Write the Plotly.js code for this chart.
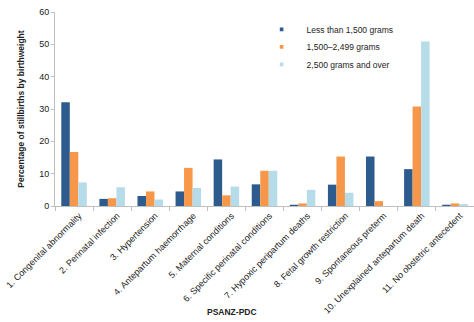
<!DOCTYPE html>
<html>
<head>
<meta charset="utf-8">
<script src="https://cdn.plot.ly/plotly-3.0.1.min.js"></script>
<style>html,body{margin:0;padding:0;background:#fff;}#chart{width:474px;height:322px;}</style>
</head>
<body>
<div id="chart"></div>
<script>
const categories = [
  "1. Congenital abnormality",
  "2. Perinatal infection",
  "3. Hypertension",
  "4. Antepartum haemorrhage",
  "5. Maternal conditions",
  "6. Specific perinatal conditions",
  "7. Hypoxic peripartum deaths",
  "8. Fetal growth restriction",
  "9. Spontaneous preterm",
  "10. Unexplained antepartum death",
  "11. No obstetric antecedent"
];
const seriesNames = ["Less than 1,500 grams", "1,500\u20132,499 grams", "2,500 grams and over"];
const under1500 = [32.1, 2.2, 3.1, 4.5, 14.4, 6.7, 0.4, 6.6, 15.3, 11.4, 0.4];
const from1500to2499 = [16.7, 2.4, 4.5, 11.8, 3.3, 10.9, 0.8, 15.3, 1.5, 30.8, 0.8];
const over2500 = [7.3, 5.8, 2.0, 5.6, 6.0, 10.9, 5.0, 4.1, 0.0, 50.9, 0.6];
const yTicks = [0, 10, 20, 30, 40, 50, 60];
const xTitle = "PSANZ-PDC";
const yTitle = "Percentage of stillbirths by birthweight";

const colors = ["#2d5b8e", "#f7974a", "#b6dcea"];
const values = [under1500, from1500to2499, over2500];
const traces = values.map((v, i) => ({
  type: "bar",
  x: categories,
  y: v,
  name: seriesNames[i],
  marker: {color: colors[i], line: {width: 0}},
  hoverinfo: "skip"
}));

const layout = {
  width: 474, height: 322,
  margin: {l: 55, r: 0, t: 12, b: 116},
  paper_bgcolor: "#fff", plot_bgcolor: "#fff",
  font: {family: "Liberation Sans, Arial, sans-serif", color: "#222", size: 8},
  barmode: "group",
  bargap: 0.33, bargroupgap: 0,
  showlegend: true,
  legend: {x: 0.505, y: 0.985, xanchor: "left", yanchor: "top", bgcolor: "rgba(0,0,0,0)",
           font: {size: 8.5, color: "#222"}, itemwidth: 30, tracegroupgap: 0},
  xaxis: {
    type: "category",
    tickangle: -45,
    ticklabelshift: 5,
    automargin: false,
    showline: true, linecolor: "#bfbfbf", linewidth: 1,
    ticks: "outside", tickson: "boundaries", ticklen: 4, tickcolor: "#bfbfbf",
    showgrid: false, zeroline: false,
    tickfont: {size: 9, color: "#222"}
  },
  yaxis: {
    range: [0, 60],
    tickvals: yTicks,
    showline: true, linecolor: "#bfbfbf", linewidth: 1,
    ticks: "outside", ticklen: 3, tickcolor: "#bfbfbf",
    showgrid: false, zeroline: false,
    tickfont: {size: 9, color: "#222"},
    title: {text: yTitle, font: {size: 8.5, color: "#222", weight: "bold"}, standoff: 13}
  },
  annotations: [{
    text: "<b>" + xTitle + "</b>", xref: "paper", yref: "paper",
    x: 0.422, y: -0.546, xanchor: "center", yanchor: "middle",
    showarrow: false, font: {size: 8.5, color: "#222"}
  }]
};
Plotly.newPlot("chart", traces, layout, {displayModeBar: false, staticPlot: true}).then(gd => {
  // Small square legend keys and tighter spacing, like the original
  const groups = gd.querySelectorAll(".legend .traces");
  groups.forEach((g, i) => {
    g.querySelectorAll(".legendpoints path").forEach(p => {
      p.setAttribute("transform", "translate(15,0) scale(0.3)");
    });
    const tr = g.getAttribute("transform") || "";
    const m = tr.match(/translate\(([-\d.]+)[ ,]+([-\d.]+)\)/);
    if (m) g.setAttribute("transform", "translate(" + m[1] + "," + (parseFloat(m[2]) - i * 1.5) + ")");
  });
});
</script>
</body>
</html>
